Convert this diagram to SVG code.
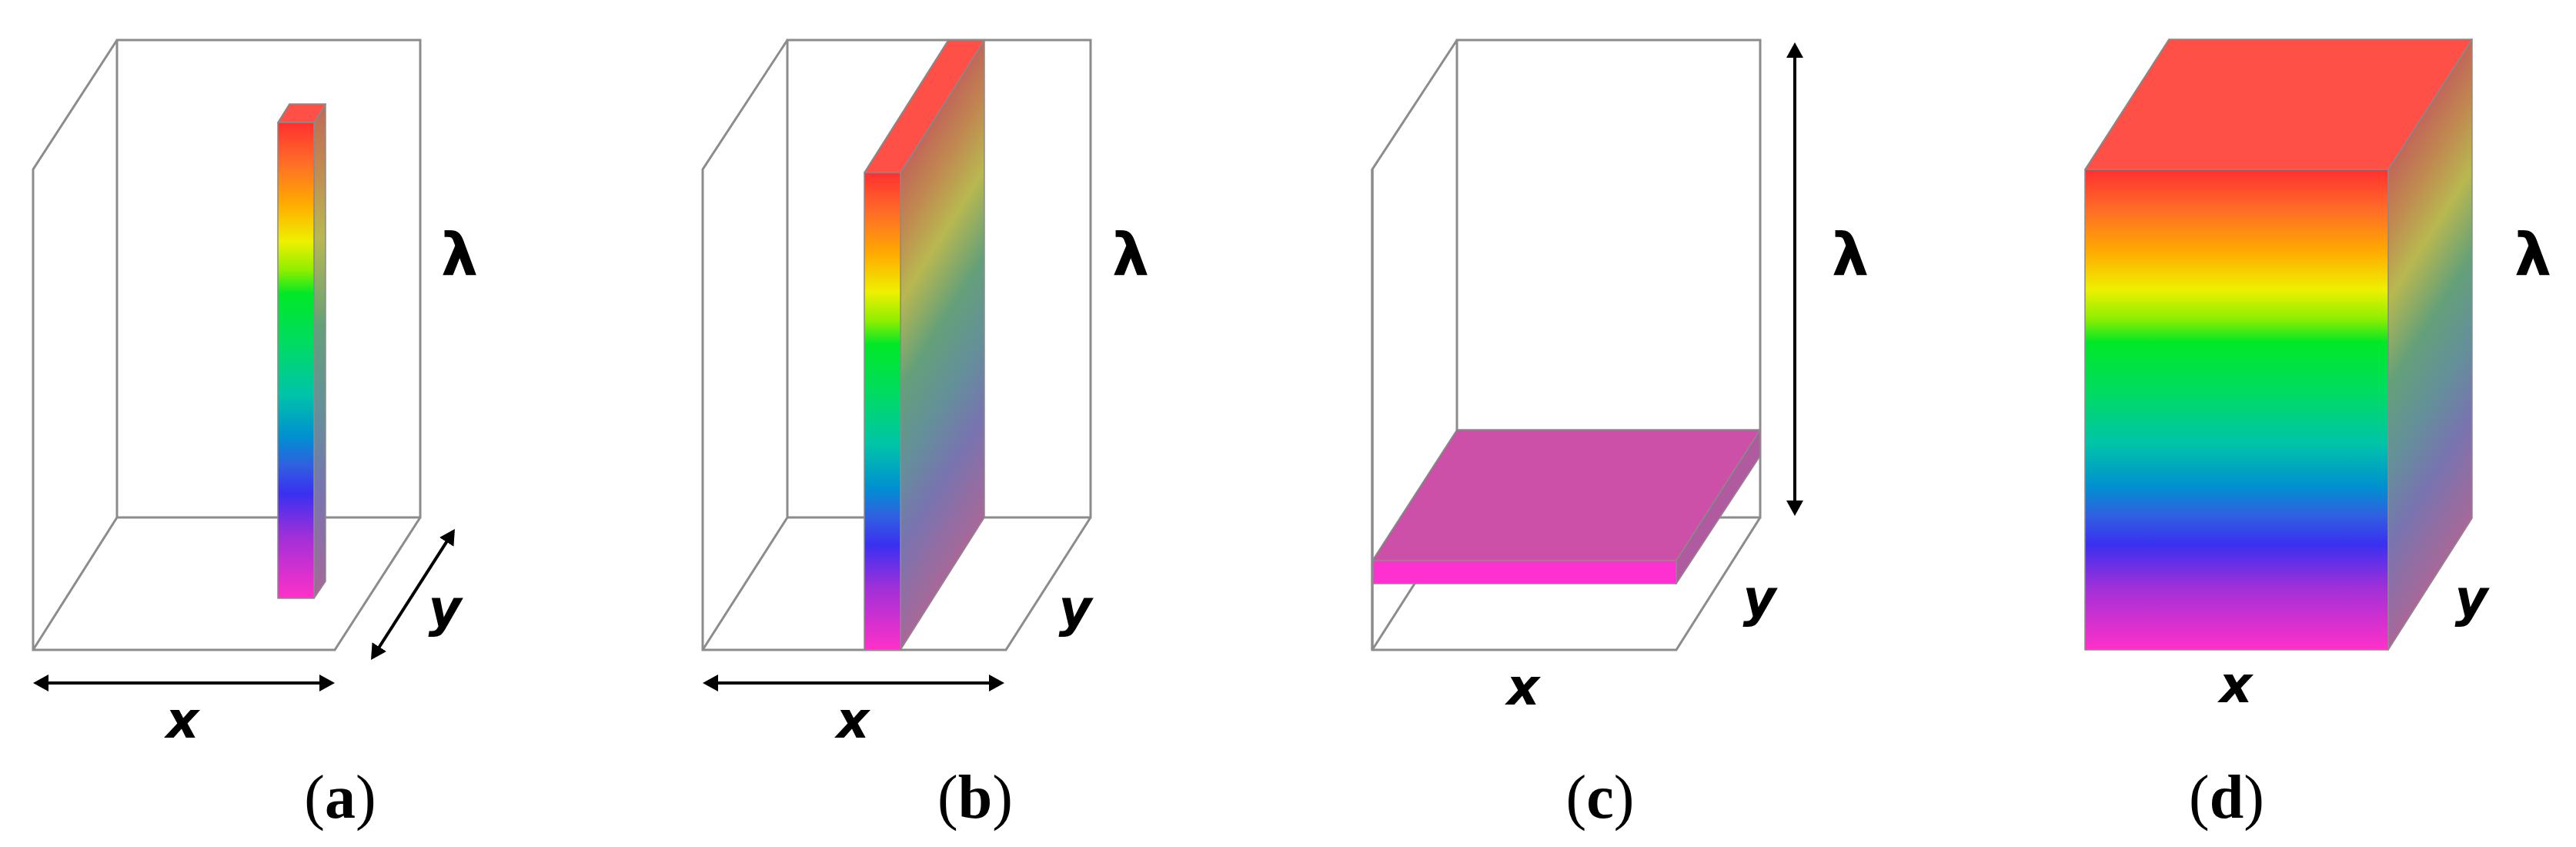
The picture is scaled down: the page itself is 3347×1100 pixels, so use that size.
<svg xmlns="http://www.w3.org/2000/svg" xmlns:xlink="http://www.w3.org/1999/xlink" width="3347" height="1100" viewBox="0 0 3347 1100">
<style>
.box{fill:none;stroke:#8c8c8c;stroke-width:3;stroke-linejoin:miter}
.face{stroke:#8a8a8a;stroke-width:1.5;stroke-linejoin:round}
.top{fill:#ff5048}
.arr{fill:none;stroke:#000;stroke-width:4}
.ax{font-family:"DejaVu Sans",sans-serif;font-weight:bold;font-style:italic;font-size:66px;fill:#000;text-anchor:middle}
.lam{font-family:"DejaVu Sans",sans-serif;font-weight:bold;font-size:76px;fill:#000;text-anchor:middle}
.cap{font-family:"Liberation Serif",serif;font-size:80px;fill:#000;text-anchor:middle}
</style>
<defs>
<marker id="ah" viewBox="0 0 20 22" markerWidth="20" markerHeight="22" markerUnits="userSpaceOnUse" refX="16" refY="11" orient="auto-start-reverse">
<path d="M0,0 L20,11 L0,22 z" fill="#000"/>
</marker>
<linearGradient id="rainbow" x1="0" y1="0" x2="0" y2="1">
<stop offset="0" stop-color="#ff3030"/>
<stop offset="0.08" stop-color="#ff6a28"/>
<stop offset="0.17" stop-color="#ffaa00"/>
<stop offset="0.25" stop-color="#eef000"/>
<stop offset="0.31" stop-color="#90ee00"/>
<stop offset="0.36" stop-color="#00e828"/>
<stop offset="0.46" stop-color="#00dc60"/>
<stop offset="0.57" stop-color="#00c4a8"/>
<stop offset="0.66" stop-color="#0090d0"/>
<stop offset="0.72" stop-color="#3060e0"/>
<stop offset="0.78" stop-color="#3a30f0"/>
<stop offset="0.87" stop-color="#a030d8"/>
<stop offset="1" stop-color="#ff30c8"/>
</linearGradient>
<linearGradient id="muted" x1="0" y1="0" x2="0" y2="1">
<stop offset="0" stop-color="#c06858"/>
<stop offset="0.12" stop-color="#c08850"/>
<stop offset="0.27" stop-color="#b8b850"/>
<stop offset="0.45" stop-color="#64a07a"/>
<stop offset="0.62" stop-color="#64909a"/>
<stop offset="0.78" stop-color="#7874b0"/>
<stop offset="1" stop-color="#a86898"/>
</linearGradient>
<linearGradient id="sideB" xlink:href="#muted" gradientUnits="userSpaceOnUse" x1="1170" y1="224" x2="1170" y2="844" gradientTransform="matrix(1,-1.578,0,1,0,1846.26)"/>
<linearGradient id="sideD" xlink:href="#muted" gradientUnits="userSpaceOnUse" x1="3103" y1="220" x2="3103" y2="844" gradientTransform="matrix(1,-1.55,0,1,0,4809.65)"/>
</defs>

<g id="panel-a">
<path class="box" d="M152,52 H546 V672 H152 Z M152,52 L43,220 V844 H435 L546,672 M43,844 L152,672"/>
<g id="bar-a">
<polygon class="face top" points="361,159 408,159 423,135 376,135"/>
<polygon class="face" fill="url(#muted)" points="408,159 423,135 423,755 408,777"/>
<rect class="face" x="361" y="159" width="47" height="618" fill="url(#rainbow)"/>
</g>
<text class="lam" x="597" y="357">λ</text>
<text class="ax" x="578" y="813">y</text>
<text class="ax" x="237" y="958">x</text>
<text class="cap" x="442" y="1062">(<tspan font-weight="bold">a</tspan>)</text>
</g>

<g id="panel-b">
<path class="box" d="M1023,52 H1417 V672 H1023 Z M1023,52 L913,220 V844 H1307 L1417,672 M913,844 L1023,672"/>
<g id="slab-b">
<polygon class="face top" points="1123,224 1170,224 1279,52 1232,52"/>
<polygon class="face" fill="url(#sideB)" points="1170,224 1279,52 1279,672 1170,844"/>
<rect class="face" x="1123" y="224" width="47" height="620" fill="url(#rainbow)"/>
</g>
<text class="lam" x="1469" y="357">λ</text>
<text class="ax" x="1397" y="813">y</text>
<text class="ax" x="1108" y="958">x</text>
<text class="cap" x="1267" y="1062">(<tspan font-weight="bold">b</tspan>)</text>
</g>

<g id="panel-c">
<path class="box" d="M1893,52 H2287 V672 H1893 Z M1893,52 L1783,220 V844 H2178 L2287,672 M1783,844 L1893,672"/>
<g id="slab-c">
<polygon class="face" fill="#cc50a8" points="1783,728 2178,728 2287,558 1893,558"/>
<polygon class="face" fill="#b05aa0" points="2178,728 2287,558 2287,592 2178,758"/>
<rect class="face" x="1783" y="728" width="395" height="30" fill="#ff30d0"/>
</g>
<line class="box" x1="1783" y1="220" x2="1783" y2="844"/>
<text class="lam" x="2404" y="357">λ</text>
<text class="ax" x="2286" y="800">y</text>
<text class="ax" x="1979" y="915">x</text>
<text class="cap" x="2079" y="1062">(<tspan font-weight="bold">c</tspan>)</text>
</g>

<g id="panel-d">
<g id="cube-d">
<polygon class="face top" points="2709,220 3103,220 3212,51 2818,51"/>
<polygon class="face" fill="url(#sideD)" points="3103,220 3212,51 3212,673 3103,844"/>
<rect class="face" x="2709" y="220" width="394" height="624" fill="url(#rainbow)"/>
</g>
<text class="lam" x="3291" y="357">λ</text>
<text class="ax" x="3211" y="800">y</text>
<text class="ax" x="2905" y="912">x</text>
<text class="cap" x="2893" y="1062">(<tspan font-weight="bold">d</tspan>)</text>
</g>

<g id="connectors">
<line class="arr" x1="47" y1="887" x2="431" y2="887" marker-start="url(#ah)" marker-end="url(#ah)"/>
<line class="arr" x1="484.2" y1="853.6" x2="588.8" y2="690.4" marker-start="url(#ah)" marker-end="url(#ah)"/>
<line class="arr" x1="917" y1="887" x2="1301" y2="887" marker-start="url(#ah)" marker-end="url(#ah)"/>
<line class="arr" x1="2332" y1="59" x2="2332" y2="666" marker-start="url(#ah)" marker-end="url(#ah)"/>
</g>
</svg>
